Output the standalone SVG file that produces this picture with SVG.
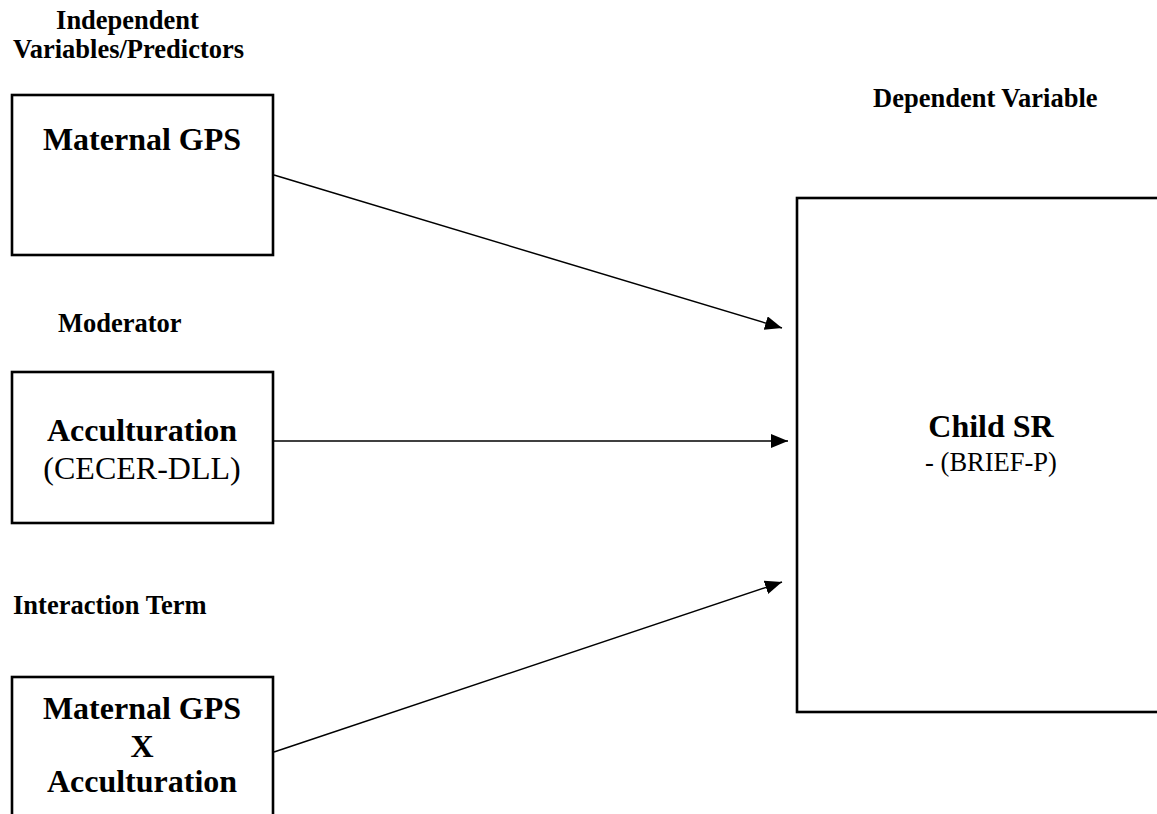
<svg xmlns="http://www.w3.org/2000/svg" width="1157" height="814" viewBox="0 0 1157 814">
<style>
.hdr{font-family:"Liberation Serif","Times New Roman",serif;font-weight:bold;font-size:26.5px;fill:#000}
.big{font-family:"Liberation Serif","Times New Roman",serif;font-weight:bold;font-size:32px;fill:#000}
.reg{font-family:"Liberation Serif","Times New Roman",serif;font-size:32px;fill:#000}
.small{font-family:"Liberation Serif","Times New Roman",serif;font-size:26.5px;fill:#000}
.box{fill:#fff;stroke:#000;stroke-width:2.6}
.conn{stroke:#000;stroke-width:1.5;fill:none}
</style>
<defs>
<marker id="arrow" markerUnits="userSpaceOnUse" markerWidth="19" markerHeight="16" refX="17" refY="7" orient="auto">
<path d="M0,0 L17,7 L0,14 z" fill="#000"/>
</marker>
</defs>
<rect width="1157" height="814" fill="#fff"/>
<g id="labels">
<text class="hdr" x="127.5" y="29" text-anchor="middle">Independent</text>
<text class="hdr" x="13" y="58">Variables/Predictors</text>
<text class="hdr" x="58" y="332">Moderator</text>
<text class="hdr" x="13" y="614">Interaction Term</text>
<text class="hdr" x="873" y="107">Dependent Variable</text>
</g>
<g id="node-maternal-gps">
<rect class="box" x="12" y="95" width="261" height="160"/>
<text class="big" x="142" y="150" text-anchor="middle">Maternal GPS</text>
</g>
<g id="node-acculturation">
<rect class="box" x="12" y="372" width="261" height="151"/>
<text class="big" x="142" y="441" text-anchor="middle">Acculturation</text>
<text class="reg" x="142" y="479" text-anchor="middle">(CECER-DLL)</text>
</g>
<g id="node-interaction">
<rect class="box" x="12" y="677" width="261" height="160"/>
<text class="big" x="142" y="719" text-anchor="middle">Maternal GPS</text>
<text class="big" x="142" y="757" text-anchor="middle">X</text>
<text class="big" x="142" y="792" text-anchor="middle">Acculturation</text>
</g>
<g id="node-child-sr">
<rect class="box" x="797" y="198" width="400" height="514"/>
<text class="big" x="991" y="437" text-anchor="middle">Child SR</text>
<text class="small" x="991" y="471" text-anchor="middle">- (BRIEF-P)</text>
</g>
<g id="connectors">
<line class="conn" x1="274" y1="175" x2="782" y2="328" marker-end="url(#arrow)"/>
<line class="conn" x1="272" y1="441" x2="788" y2="441" marker-end="url(#arrow)"/>
<line class="conn" x1="274" y1="752" x2="782" y2="582" marker-end="url(#arrow)"/>
</g>
</svg>
